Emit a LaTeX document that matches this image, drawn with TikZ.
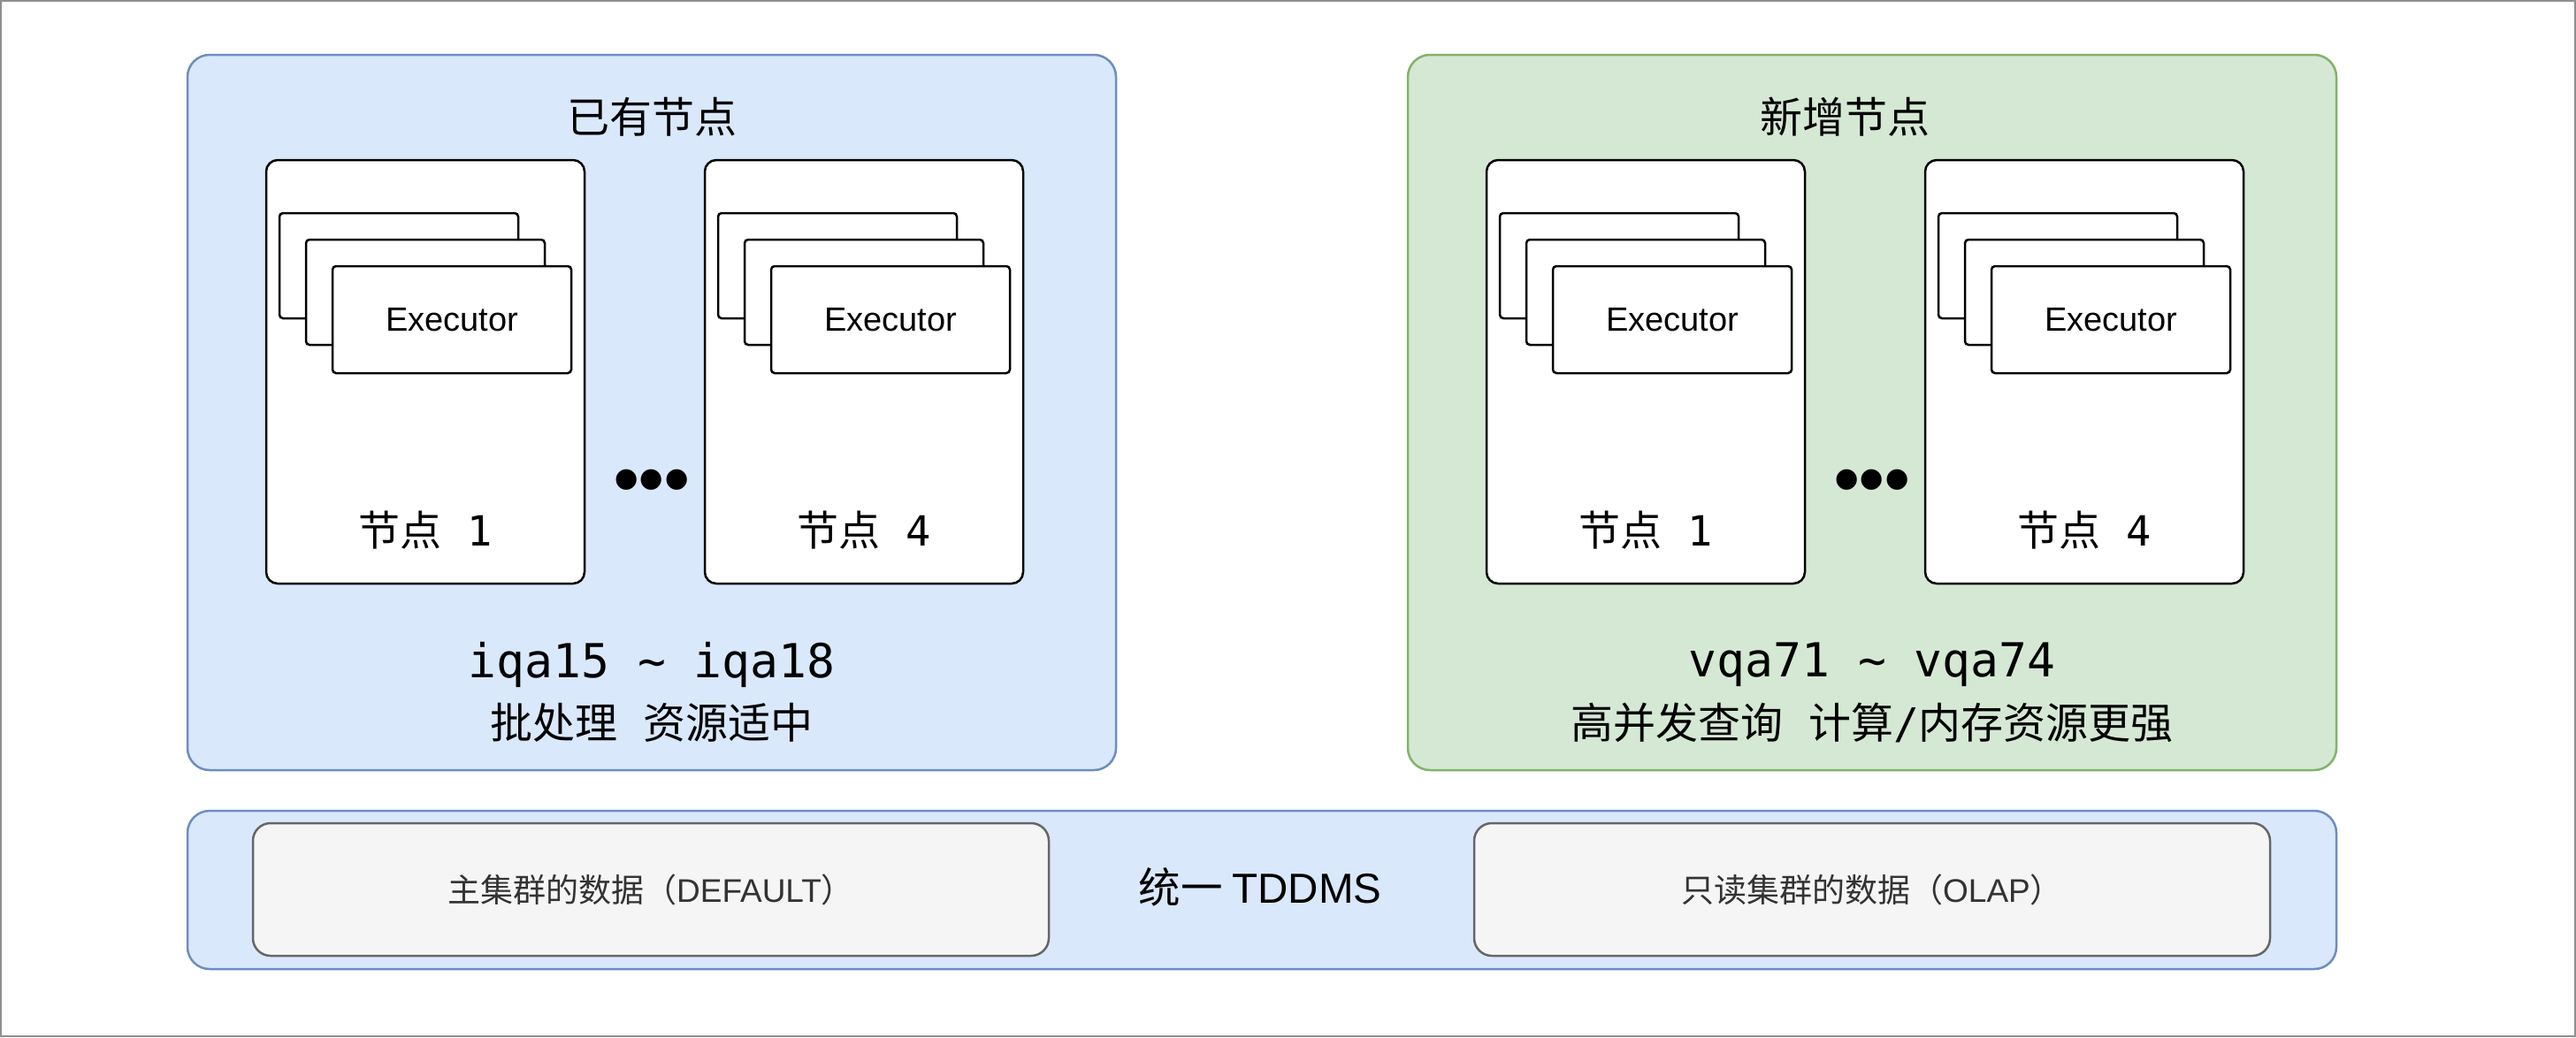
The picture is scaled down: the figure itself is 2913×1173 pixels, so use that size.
\documentclass[tikz,border=0pt]{standalone}
\usepackage{fontspec}
\newfontfamily\cjk{Noto Sans CJK SC}
\newfontfamily\monof{DejaVu Sans Mono}
\newfontfamily\sansf{Liberation Sans}
\definecolor{bluefill}{HTML}{DAE8FC}
\definecolor{bluedraw}{HTML}{6C8EBF}
\definecolor{greenfill}{HTML}{D5E8D4}
\definecolor{greendraw}{HTML}{82B366}
\definecolor{grayfill}{HTML}{F5F5F5}
\definecolor{graydraw}{HTML}{666666}
\definecolor{graytext}{HTML}{333333}
\definecolor{framegray}{HTML}{8F8F8F}
\tikzset{
  grp/.style={rectangle, rounded corners=25pt, line width=2.5pt, inner sep=0pt},
  bluegrp/.style={grp, draw=bluedraw, fill=bluefill},
  greengrp/.style={grp, draw=greendraw, fill=greenfill},
  databox/.style={rectangle, rounded corners=20pt, line width=2.5pt, draw=graydraw, fill=grayfill, inner sep=0pt, minimum width=900pt, minimum height=150pt},
  hostbox/.style={rectangle, rounded corners=13pt, line width=2.5pt, draw=black, fill=white, inner sep=0pt, minimum width=360pt, minimum height=479pt},
  card/.style={rectangle, rounded corners=4pt, line width=2.5pt, draw=black, fill=white, inner sep=0pt, minimum width=270pt},
  txt/.style={inner sep=0pt, text=black},
}
\newcommand{\cjkbig}{\cjk\fontsize{47}{50}\selectfont}
\newcommand{\cjktitle}{\cjk\fontsize{48}{52}\selectfont}
\begin{document}
\begin{tikzpicture}[x=1pt,y=-1pt]
\useasboundingbox (0,0) rectangle (2913,1173);
\draw[line width=2pt, framegray] (1,1) rectangle (2912,1172);

% group boxes
\node[bluegrp, minimum width=1050pt, minimum height=809pt] (grpOld) at (737,466.5) {};
\node[greengrp, minimum width=1050pt, minimum height=809pt] (grpNew) at (2117,466.5) {};

\node[txt] (titleOld) at (737,132) {\cjktitle 已有节点};
\node[txt] (titleNew) at (2086,132) {\cjktitle 新增节点};

% hosts
\foreach \L/\n/\nm in {301/1/a, 797/4/b, 1681/1/c, 2177/4/d}{
  \node[hostbox] (host\nm) at (\L+180,420.5) {};
  \node[card, minimum height=119pt] (cardback\nm) at (\L+150,300.5) {};
  \node[card, minimum height=119pt] (cardmid\nm) at (\L+180,330.5) {};
  \node[card, minimum height=121pt] (cardfront\nm) at (\L+210,361.5) {};
  \node[txt] (exec\nm) at (\L+210,361.5) {\sansf\fontsize{38}{40}\selectfont Executor};
  \node[txt] (hostlabel\nm) at (\L+180,600) {\cjkbig 节点{\monof\ \n}};
}

% ellipsis dots
\node[txt] (dotsOld) at (737,550) {\sansf\bfseries\fontsize{81}{81}\selectfont •••};
\node[txt] (dotsNew) at (2117,550) {\sansf\bfseries\fontsize{81}{81}\selectfont •••};

% descriptions
\node[txt] (nameOld) at (737,752) {\monof\fontsize{53}{56}\selectfont iqa15 \~{} iqa18};
\node[txt] (descOld) at (737,817) {\cjk\fontsize{48}{52}\selectfont 批处理{\monof\ }资源适中};
\node[txt] (nameNew) at (2117,752) {\monof\fontsize{53}{56}\selectfont vqa71 \~{} vqa74};
\node[txt] (descNew) at (2117,817) {\cjk\fontsize{48}{52}\selectfont 高并发查询{\monof\ }计算{\monof /}内存资源更强};

% bottom bar
\node[bluegrp, minimum width=2430pt, minimum height=179pt] (tddms) at (1427,1006.5) {};
\node[databox] (dataDefault) at (736,1006) {};
\node[databox] (dataOlap) at (2117,1006) {};
\node[txt, text=graytext] at (dataDefault.center) {\cjk\fontsize{37}{40}\selectfont 主集群的数据（{\sansf DEFAULT}）};
\node[txt, text=graytext] at (dataOlap.center) {\cjk\fontsize{37}{40}\selectfont 只读集群的数据（{\sansf OLAP}）};
\node[txt] (tddmsLabel) at (1425,1003) {\cjk\fontsize{47.5}{50}\selectfont 统一 {\sansf TDDMS}};
\end{tikzpicture}
\end{document}
